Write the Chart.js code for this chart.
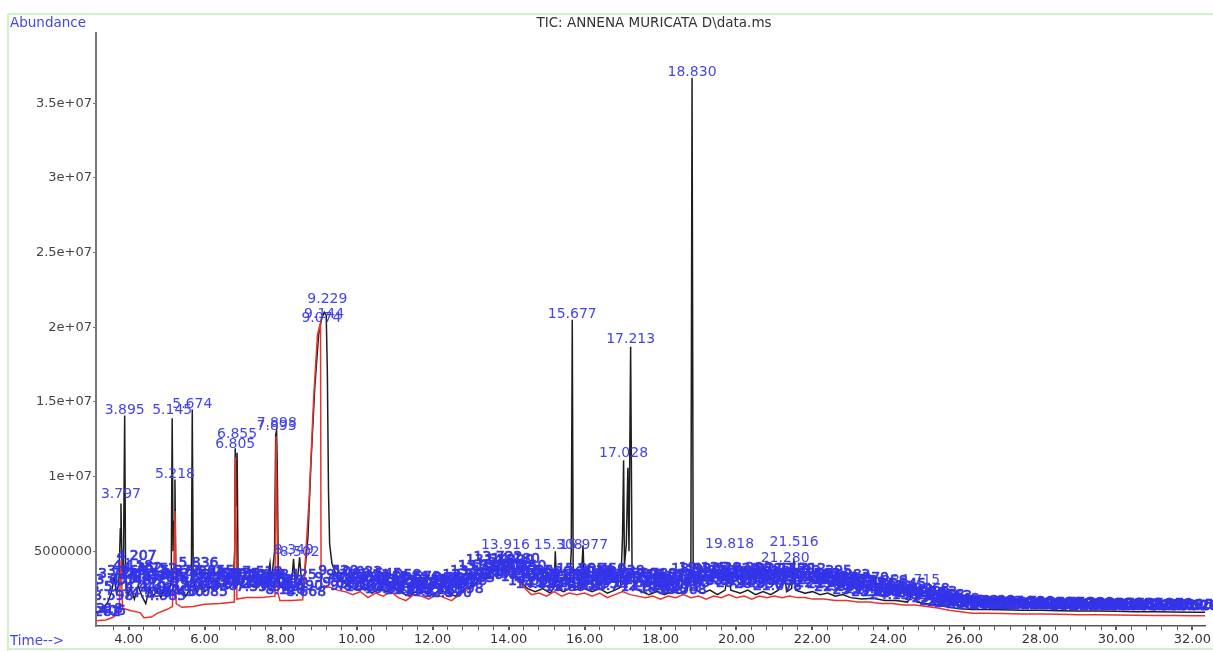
<!DOCTYPE html>
<html>
<head>
<meta charset="utf-8">
<script src="https://cdn.jsdelivr.net/npm/chart.js@4.4.1/dist/chart.umd.min.js"></script>
<style>
html,body{margin:0;padding:0;background:#fff;}
#wrap{position:relative;width:1213px;height:651px;}
</style>
</head>
<body>
<div id="wrap"><canvas id="c"></canvas></div>
<script>
// ---- DATA (abundance in millions) ----
const chartTitle = 'TIC: ANNENA MURICATA D\\data.ms';
const yAxisCaption = 'Abundance';
const xAxisCaption = 'Time-->';
const xTickLabels = ['4.00','6.00','8.00','10.00','12.00','14.00','16.00','18.00','20.00','22.00','24.00','26.00','28.00','30.00','32.00'];
const yTickValues = [5, 10, 15, 20, 25, 30, 35];
const yTickLabels = ['5000000','1e+07','1.5e+07','2e+07','2.5e+07','3e+07','3.5e+07'];

const blackTrace = [
[3.14,0.9],[3.30,1.1],[3.45,1.6],[3.55,2.3],[3.62,3.2],[3.68,2.2],[3.74,2.8],[3.78,6.5],[3.797,8.2],[3.82,4.0],[3.86,3.5],[3.895,14.1],[3.92,3.0],[3.98,2.0],
[4.05,2.6],[4.15,1.8],[4.25,2.7],[4.35,2.0],[4.45,1.5],[4.55,2.6],[4.65,2.0],[4.75,2.4],[4.85,1.9],[4.95,2.6],[5.05,2.2],[5.12,3.0],[5.145,13.9],[5.17,5.0],[5.20,7.0],[5.218,9.8],[5.24,4.0],
[5.30,2.2],[5.40,2.5],[5.50,2.0],[5.60,2.4],[5.65,3.0],[5.674,14.5],[5.70,3.0],[5.80,2.2],[5.90,2.8],[6.00,2.3],[6.15,2.6],[6.30,2.4],[6.45,2.8],[6.60,2.5],[6.75,2.9],
[6.79,5.0],[6.805,11.9],[6.83,8.0],[6.855,11.6],[6.88,3.5],[6.95,2.6],[7.10,2.8],[7.30,2.6],[7.50,2.9],[7.65,3.0],[7.72,4.2],[7.76,3.0],[7.84,5.0],[7.87,12.8],[7.893,13.1],[7.91,11.0],[7.94,3.5],
[8.00,2.6],[8.15,2.5],[8.30,3.2],[8.34,4.5],[8.38,3.0],[8.45,3.3],[8.50,4.6],[8.55,3.0],[8.60,2.5],[8.72,6.0],[8.80,11.0],[8.90,16.0],[9.00,19.5],[9.08,20.6],[9.15,21.0],[9.20,20.8],
[9.23,17.0],[9.26,9.0],[9.29,5.5],[9.35,4.2],[9.45,3.5],[9.60,3.0],[9.80,2.7],[10.00,2.4],[10.20,2.6],[10.40,2.2],[10.60,2.5],[10.80,2.3],[11.00,2.6],[11.20,2.2],[11.40,2.0],[11.60,2.4],
[11.80,2.3],[12.00,2.1],[12.20,2.4],[12.40,2.2],[12.60,2.0],[12.80,2.4],[13.00,2.7],[13.20,3.0],[13.40,3.3],[13.60,3.8],[13.80,4.2],[13.90,4.4],[14.00,4.1],[14.15,3.6],[14.30,3.0],[14.50,2.5],
[14.70,2.3],[14.90,2.5],[15.10,2.2],[15.20,2.6],[15.23,5.0],[15.27,2.5],[15.45,2.3],[15.60,2.5],[15.65,5.0],[15.677,20.5],[15.70,4.0],[15.75,2.4],[15.90,2.5],[15.96,5.4],[16.00,2.5],
[16.20,2.3],[16.40,2.5],[16.60,2.2],[16.80,2.4],[16.95,2.6],[17.00,6.0],[17.028,11.1],[17.05,4.0],[17.10,5.5],[17.14,10.6],[17.17,5.0],[17.213,18.7],[17.25,4.0],[17.32,2.5],[17.50,2.3],
[17.70,2.1],[17.90,2.3],[18.10,2.1],[18.30,2.3],[18.50,2.2],[18.70,2.4],[18.80,4.0],[18.83,36.7],[18.86,4.0],[18.95,2.4],[19.10,2.2],[19.30,2.4],[19.50,2.1],[19.70,2.4],[19.80,3.8],[19.85,2.4],
[20.10,2.2],[20.30,2.4],[20.50,2.1],[20.70,2.3],[20.90,2.1],[21.10,2.4],[21.27,3.4],[21.32,2.3],[21.45,2.5],[21.51,4.5],[21.56,2.4],[21.80,2.2],[22.00,2.3],[22.20,2.1],[22.40,2.2],[22.60,2.0],
[22.80,2.1],[23.00,1.9],[23.30,1.8],[23.60,1.85],[23.90,1.7],[24.20,1.7],[24.50,1.6],[24.70,2.4],[24.75,1.6],[25.00,1.5],[25.30,1.4],[25.60,1.25],[25.90,1.15],[26.20,1.1],[26.60,1.1],
[27.00,1.08],[27.50,1.05],[28.00,1.06],[28.50,1.02],[29.00,1.0],[29.50,1.0],[30.00,0.98],[30.50,0.96],[31.00,0.95],[31.50,0.94],[32.00,0.92],[32.34,0.92]
];

const redTrace = [
[3.14,0.35],[3.40,0.4],[3.60,0.6],[3.75,1.0],[3.80,4.4],[3.84,1.2],[3.95,1.1],[4.10,1.0],[4.30,0.9],[4.40,0.55],[4.60,0.6],[4.75,0.85],[5.00,1.1],[5.15,1.3],[5.19,4.0],[5.22,7.7],[5.25,1.5],
[5.40,1.25],[5.70,1.3],[6.00,1.45],[6.40,1.5],[6.78,1.6],[6.81,11.3],[6.85,1.8],[7.10,1.9],[7.50,1.9],[7.85,2.0],[7.88,12.7],[7.93,2.2],[7.98,1.7],[8.30,1.7],[8.58,1.75],[8.60,2.3],
[8.75,8.5],[8.87,15.3],[8.97,19.5],[9.05,20.3],[9.065,2.6],[9.30,2.6],[9.50,2.4],[9.70,2.3],[9.90,2.1],[10.10,2.3],[10.30,1.9],[10.50,2.2],[10.70,2.0],[10.90,2.3],[11.10,1.9],[11.30,1.7],
[11.50,2.1],[11.70,2.0],[11.90,1.8],[12.10,2.1],[12.30,1.9],[12.50,1.7],[12.70,2.1],[12.90,2.4],[13.10,2.7],[13.30,3.0],[13.50,3.4],[13.70,3.8],[13.90,4.1],[14.05,3.7],[14.20,3.2],[14.40,2.6],
[14.60,2.1],[14.80,2.2],[15.00,2.0],[15.20,2.3],[15.40,2.0],[15.60,2.2],[15.80,2.1],[16.00,2.2],[16.20,2.0],[16.40,2.2],[16.60,1.9],[16.80,2.1],[17.00,2.3],[17.20,2.1],[17.40,2.0],[17.60,1.9],
[17.80,2.0],[18.00,1.8],[18.20,2.0],[18.40,1.9],[18.60,2.1],[18.80,1.9],[19.00,2.0],[19.20,1.8],[19.40,2.0],[19.60,1.9],[19.80,2.1],[20.00,1.9],[20.20,2.0],[20.40,1.8],[20.60,2.0],[20.80,1.9],
[21.00,2.0],[21.20,1.9],[21.40,2.0],[21.60,1.9],[21.80,1.9],[22.00,1.8],[22.30,1.8],[22.60,1.7],[22.90,1.7],[23.20,1.6],[23.50,1.6],[23.80,1.5],[24.10,1.5],[24.40,1.4],[24.70,1.4],[25.00,1.3],
[25.30,1.2],[25.60,1.05],[25.90,0.95],[26.20,0.85],[26.60,0.85],[27.00,0.83],[27.50,0.8],[28.00,0.8],[28.50,0.78],[29.00,0.76],[29.50,0.76],[30.00,0.74],[30.50,0.72],[31.00,0.71],[31.50,0.7],
[32.00,0.68],[32.34,0.68]
];

// labelled peaks: [retention time, label anchor abundance]
const majorPeaks = [
[3.797,8.44],[3.895,14.06],[5.145,14.06],[5.218,9.77],[5.674,14.46],[6.805,11.78],[6.855,12.45],[7.893,12.99],[7.898,13.19],[8.349,4.69],[8.502,4.55],
[9.074,20.22],[9.144,20.49],[9.229,21.49],[13.916,5.02],[15.308,5.02],[15.677,20.49],[15.977,5.02],[17.028,11.18],[17.213,18.81],[18.830,36.69],
[19.818,5.09],[21.280,4.15],[21.516,5.22],[24.715,2.68]
];
const minorPeaks = [
[3.262,0.55],[3.318,0.75],[3.405,0.6],[3.521,2.2],[3.598,1.6],[3.655,2.7],[3.718,3.1],[3.960,3.3],[4.048,2.6],[4.118,3.6],[4.207,4.3],[4.285,2.9],[4.362,3.5],[4.440,2.2],[4.518,3.0],
[4.596,1.8],[4.675,2.7],[4.752,3.4],[4.830,2.0],[4.908,2.9],[4.985,1.6],[5.062,3.1],[5.298,2.4],[5.372,3.3],[5.450,1.9],[5.528,2.8],[5.605,2.2],[5.752,3.0],[5.836,3.8],[5.918,2.5],
[6.002,3.2],[6.085,1.9],[6.170,2.8],[6.255,3.3],[6.338,2.3],[6.420,3.0],[6.505,2.6],[6.590,3.1],[6.672,2.4],[6.935,3.1],[7.018,2.6],[7.102,3.0],[7.185,2.4],[7.268,2.9],[7.350,2.2],
[7.435,2.8],[7.518,3.2],[7.602,2.5],[7.688,3.0],[7.770,2.7],[7.960,2.2],[8.045,2.6],[8.128,2.0],[8.212,2.4],[8.425,3.0],[8.590,2.3],[8.668,1.9],
[9.418,2.8],[9.520,3.3],[9.622,2.5],[9.725,3.0],[9.828,2.3],[9.930,2.8],[10.033,3.2],[10.135,2.4],[10.238,2.9],[10.340,2.2],[10.443,2.7],[10.545,3.1],[10.648,2.3],[10.750,2.8],
[10.853,2.1],[10.955,2.6],[11.058,3.0],[11.160,2.2],[11.263,2.7],[11.365,2.0],[11.468,2.5],[11.570,2.9],[11.673,2.1],[11.775,2.6],[11.878,1.9],[11.980,2.4],[12.083,2.8],[12.185,2.0],
[12.288,2.5],[12.390,1.8],[12.493,2.4],[12.595,2.7],[12.698,2.1],[12.800,2.6],[12.903,3.0],
[13.005,2.8],[13.108,3.3],[13.210,3.0],[13.313,3.6],[13.415,3.2],[13.518,4.0],[13.620,3.6],[13.722,4.2],[13.780,3.7],[13.835,3.1],[14.020,4.0],[14.095,3.5],[14.180,4.1],[14.265,3.3],
[14.350,3.6],[14.440,2.9],[14.535,3.3],[14.630,2.6],[14.728,3.1],[14.825,2.4],[14.922,2.9],[15.020,3.2],[15.118,2.5],[15.215,3.0],
[15.410,2.5],[15.505,3.0],[15.600,2.2],[15.760,2.9],[15.858,2.3],[15.905,3.4],[16.060,2.7],[16.158,3.2],[16.255,2.4],[16.352,3.0],[16.450,3.4],[16.548,2.6],[16.645,3.1],[16.742,2.3],
[16.840,2.9],[16.938,3.3],[17.095,2.8],[17.300,3.1],[17.398,2.5],[17.495,3.0],[17.593,2.2],[17.690,2.7],[17.788,3.1],[17.885,2.3],[17.983,2.8],[18.080,2.1],[18.178,2.6],[18.275,3.0],
[18.373,2.2],[18.470,2.7],[18.568,2.0],[18.665,2.5],[18.763,2.9],[18.930,3.4],[19.028,3.0],[19.125,3.5],[19.223,2.7],[19.320,3.3],[19.418,2.9],[19.515,3.4],[19.613,2.6],[19.710,3.1],
[19.908,2.8],[20.005,3.3],[20.103,2.5],[20.200,3.1],[20.298,3.5],[20.395,2.7],[20.493,3.2],[20.590,2.4],[20.688,3.0],[20.785,3.4],[20.883,2.6],[20.980,3.1],[21.078,2.3],[21.175,3.4],
[21.372,2.9],[21.420,3.4],[21.615,3.1],[21.712,3.4],[21.810,2.7],[21.908,3.1],
[22.005,2.7],[22.103,3.1],[22.200,2.5],[22.298,2.9],[22.395,3.3],[22.493,2.4],[22.590,2.8],[22.688,2.2],[22.785,2.7],[22.883,3.0],[22.980,2.3],[23.078,2.6],[23.175,2.0],[23.273,2.5],
[23.370,2.8],[23.468,2.1],[23.565,2.4],[23.663,1.9],[23.760,2.3],[23.858,2.6],[23.955,1.9],[24.053,2.2],[24.150,1.7],[24.248,2.1],[24.345,2.4],[24.443,1.8],[24.540,2.0],[24.870,1.8],
[24.968,2.1],[25.065,1.6],[25.163,1.9],[25.260,1.5],[25.358,1.7],[25.455,1.3],[25.553,1.6],[25.650,1.2],[25.748,1.4],[25.845,1.15],[25.943,1.3],
[26.040,1.25],[26.170,1.05],[26.300,1.2],[26.430,1.0],[26.560,1.15],[26.690,1.25],[26.820,1.0],[26.950,1.15],[27.080,1.05],[27.210,1.2],[27.340,1.0],[27.470,1.15],[27.600,1.05],
[27.730,1.2],[27.860,0.98],[27.990,1.1],[28.120,1.0],[28.250,1.15],[28.380,0.98],[28.510,1.1],[28.640,1.0],[28.770,1.12],[28.900,0.96],[29.030,1.08],[29.160,1.0],[29.290,1.12],
[29.420,0.95],[29.550,1.06],[29.680,0.98],[29.810,1.1],[29.940,0.95],[30.070,1.05],[30.200,0.97],[30.330,1.08],[30.460,0.94],[30.590,1.04],[30.720,0.96],[30.850,1.06],[30.980,0.93],
[31.110,1.03],[31.240,0.95],[31.370,1.05],[31.500,0.92],[31.630,1.02],[31.760,0.94],[31.890,1.03],[32.020,0.92],[32.150,1.0],[32.280,0.93]
];

const UNIT = 1e6;
const LABEL_BLUE = 'rgb(52,52,232)';
const MAJOR_BLUE = 'rgb(68,68,236)';
const FONT = "'DejaVu Sans', 'Liberation Sans', sans-serif";

const toXY = arr => arr.map(p => ({x: p[0], y: p[1] * UNIT}));

const framePlugin = {
  id: 'frame',
  beforeDraw(chart) {
    const ctx = chart.ctx;
    ctx.save();
    ctx.fillStyle = '#fff';
    ctx.fillRect(0, 0, chart.width, chart.height);
    ctx.strokeStyle = '#cdf3c6';
    ctx.lineWidth = 2;
    ctx.beginPath();
    ctx.moveTo(8, 14); ctx.lineTo(chart.width, 14);
    ctx.moveTo(8, 14); ctx.lineTo(8, chart.height);
    ctx.moveTo(8, 649); ctx.lineTo(chart.width, 649);
    ctx.stroke();
    ctx.restore();
  },
  afterDraw(chart) {
    const ctx = chart.ctx;
    ctx.save();
    ctx.textBaseline = 'middle';
    ctx.font = '13.5px ' + FONT;
    ctx.fillStyle = '#333';
    ctx.textAlign = 'center';
    ctx.fillText(chartTitle, 654, 23);
    ctx.textAlign = 'left';
    ctx.fillStyle = MAJOR_BLUE;
    ctx.fillText(yAxisCaption, 10, 23);
    ctx.fillText(xAxisCaption, 10, 641);
    ctx.restore();
  }
};

const peakLabelPlugin = {
  id: 'peakLabels',
  afterDatasetsDraw(chart) {
    const {ctx, chartArea} = chart;
    const xs = chart.scales.x, ys = chart.scales.y;
    ctx.save();
    ctx.beginPath();
    ctx.rect(chartArea.left + 1, 0, chart.width - chartArea.left, chartArea.bottom - 1);
    ctx.clip();
    ctx.font = '14px ' + FONT;
    ctx.textAlign = 'center';
    ctx.textBaseline = 'alphabetic';
    const draw = (color, w) => p => {
      const px = xs.getPixelForValue(p[0]), py = ys.getPixelForValue(p[1] * UNIT) - 2;
      const s = p[0].toFixed(3);
      ctx.fillStyle = color;
      ctx.strokeStyle = color;
      if (w > 0) { ctx.lineWidth = w; ctx.strokeText(s, px, py); }
      ctx.fillText(s, px, py);
    };
    minorPeaks.forEach(draw(LABEL_BLUE, 0.7));
    majorPeaks.forEach(draw(MAJOR_BLUE, 0));
    ctx.restore();
  }
};

new Chart(document.getElementById('c'), {
  type: 'scatter',
  data: {
    datasets: [
      { label: 'red', data: toXY(redTrace), showLine: true, borderColor: '#e8332a', borderWidth: 1.5, pointRadius: 0, tension: 0 },
      { label: 'TIC', data: toXY(blackTrace), showLine: true, borderColor: '#1e1e1e', borderWidth: 1.5, pointRadius: 0, tension: 0 }
    ]
  },
  options: {
    responsive: true,
    maintainAspectRatio: false,
    animation: false,
    events: [],
    layout: { padding: { top: 33, right: 2, left: 0, bottom: 0 } },
    plugins: { legend: { display: false }, tooltip: { enabled: false }, title: { display: false } },
    scales: {
      x: {
        type: 'linear',
        min: 3.14, max: 32.34,
        afterFit(s) { s.height = 25; },
        afterBuildTicks(s) {
          const t = [];
          for (let v = 3.6; v <= 32.3; v += 0.4) t.push({ value: Math.round(v * 10) / 10 });
          s.ticks = t;
        },
        border: { display: true, color: '#555', width: 1.5 },
        grid: { display: true, drawOnChartArea: false, drawTicks: true, tickLength: 4, color: '#555',
                lineWidth: c => (Math.abs(c.tick.value / 2 - Math.round(c.tick.value / 2)) < 1e-6 ? 2 : 1) },
        ticks: {
          padding: 2, maxRotation: 0, autoSkip: false,
          color: '#333', font: { family: FONT, size: 13 },
          callback(v) {
            const i = Math.round((v - 4) / 2);
            return Math.abs(v - (4 + 2 * i)) < 1e-6 && i >= 0 && i < xTickLabels.length ? xTickLabels[i] : '';
          }
        }
      },
      y: {
        type: 'linear',
        min: 0, max: 39.7 * UNIT,
        afterFit(s) { s.width = 96; },
        afterBuildTicks(s) { s.ticks = yTickValues.map(v => ({ value: v * UNIT })); },
        border: { display: true, color: '#777', width: 2 },
        grid: { display: true, drawOnChartArea: false, drawTicks: true, tickLength: 3, color: '#777' },
        ticks: {
          padding: 1, color: '#444', font: { family: FONT, size: 13 },
          callback(v) {
            const i = yTickValues.indexOf(Math.round(v / UNIT));
            return i >= 0 ? yTickLabels[i] : '';
          }
        }
      }
    }
  },
  plugins: [framePlugin, peakLabelPlugin]
});
</script>
</body>
</html>
